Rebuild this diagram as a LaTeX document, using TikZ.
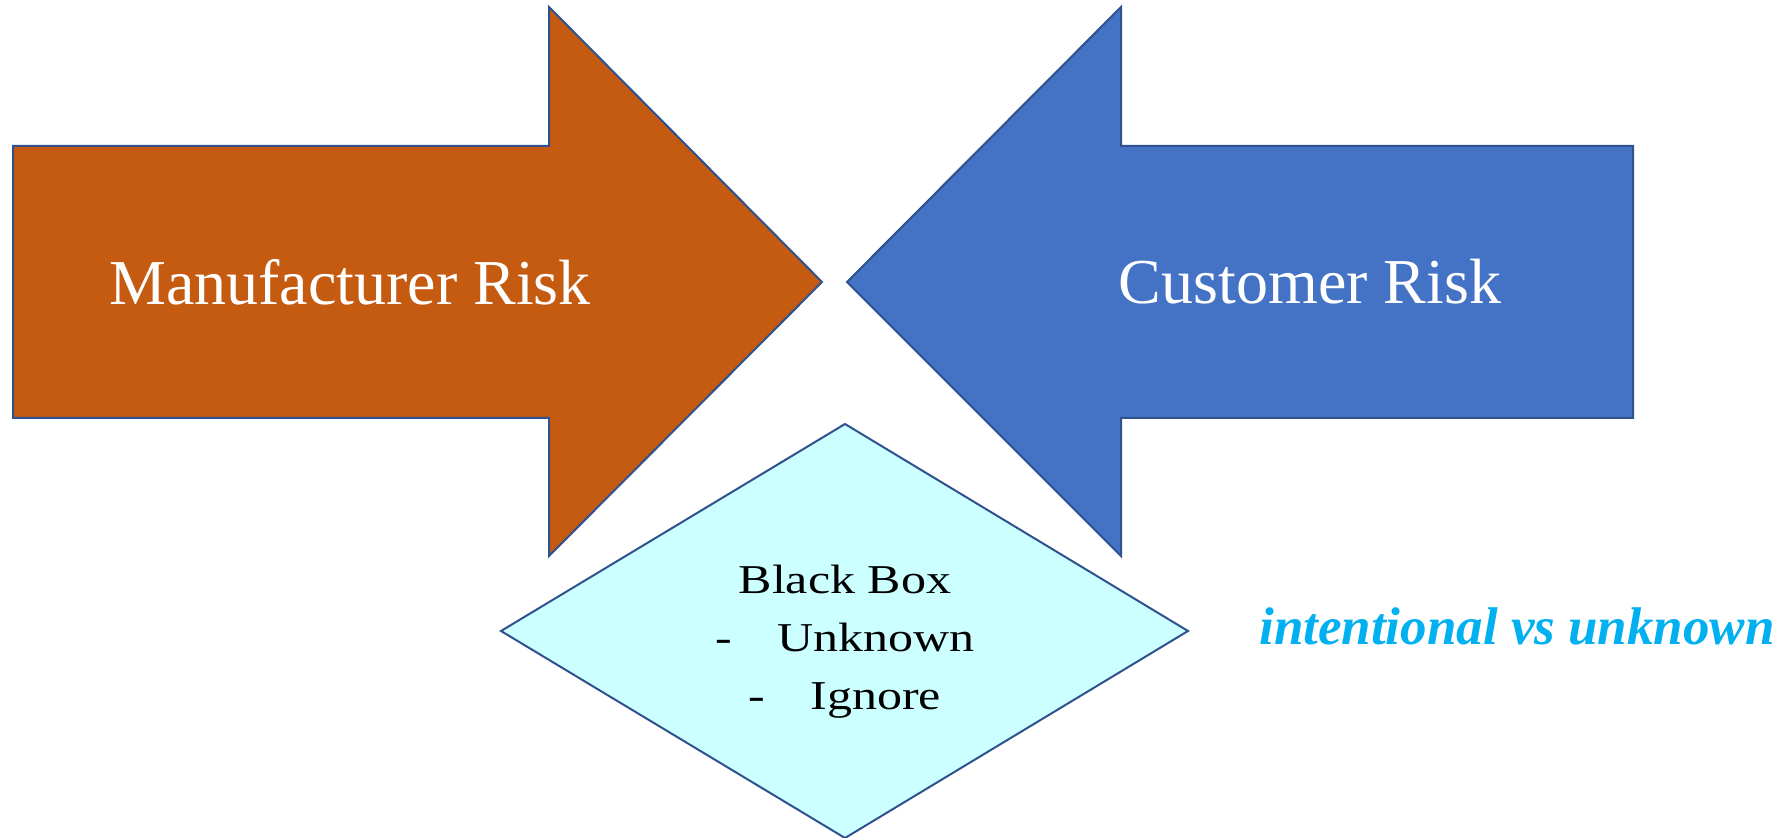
\documentclass[tikz,border=0pt]{standalone}
\usepackage{fontspec}
\setmainfont{Liberation Serif}
\definecolor{mforange}{RGB}{197,90,17}
\definecolor{custblue}{RGB}{68,114,196}
\definecolor{edgeblue}{RGB}{47,82,143}
\definecolor{boxcyan}{RGB}{204,255,255}
\definecolor{notecyan}{RGB}{0,176,240}

\begin{document}
\begin{tikzpicture}[
    x=0.5pt, y=-0.5pt,
    shapeedge/.style={draw=edgeblue,line width=1pt,line join=miter},
    risklabel/.style={text=white,font=\fontsize{32}{38}\selectfont},
    boxlabel/.style={align=center,xscale=1.22,transform shape,font=\fontsize{20.5}{29}\selectfont},
    notelabel/.style={text=notecyan,font=\fontsize{26.5}{30}\selectfont\bfseries\itshape}
  ]
    \useasboundingbox (0,0) rectangle (1783,838);
    % arrows
    \filldraw[shapeedge,fill=mforange] (13,146) -- (549,146) -- (549,7) -- (822,282)
      -- (549,556) -- (549,418) -- (13,418) -- cycle;
    \filldraw[shapeedge,fill=custblue] (1633,146) -- (1121,146) -- (1121,7) -- (847,282)
      -- (1121,556) -- (1121,418) -- (1633,418) -- cycle;
    % black box
    \filldraw[shapeedge,fill=boxcyan] (501,631) -- (845,424) -- (1188,631) -- (845,838) -- cycle;
    \node[risklabel] (mfr) at (350,282) {Manufacturer Risk};
    \node[risklabel] (cust) at (1310,282) {Customer Risk};
    \node[boxlabel] (blackbox) at (845,642) {Black Box\\-\hspace{0.9em}Unknown\\-\hspace{0.9em}Ignore};
    \node[notelabel] (note) at (1517,626) {intentional vs unknown};
  \end{tikzpicture}
\end{document}
